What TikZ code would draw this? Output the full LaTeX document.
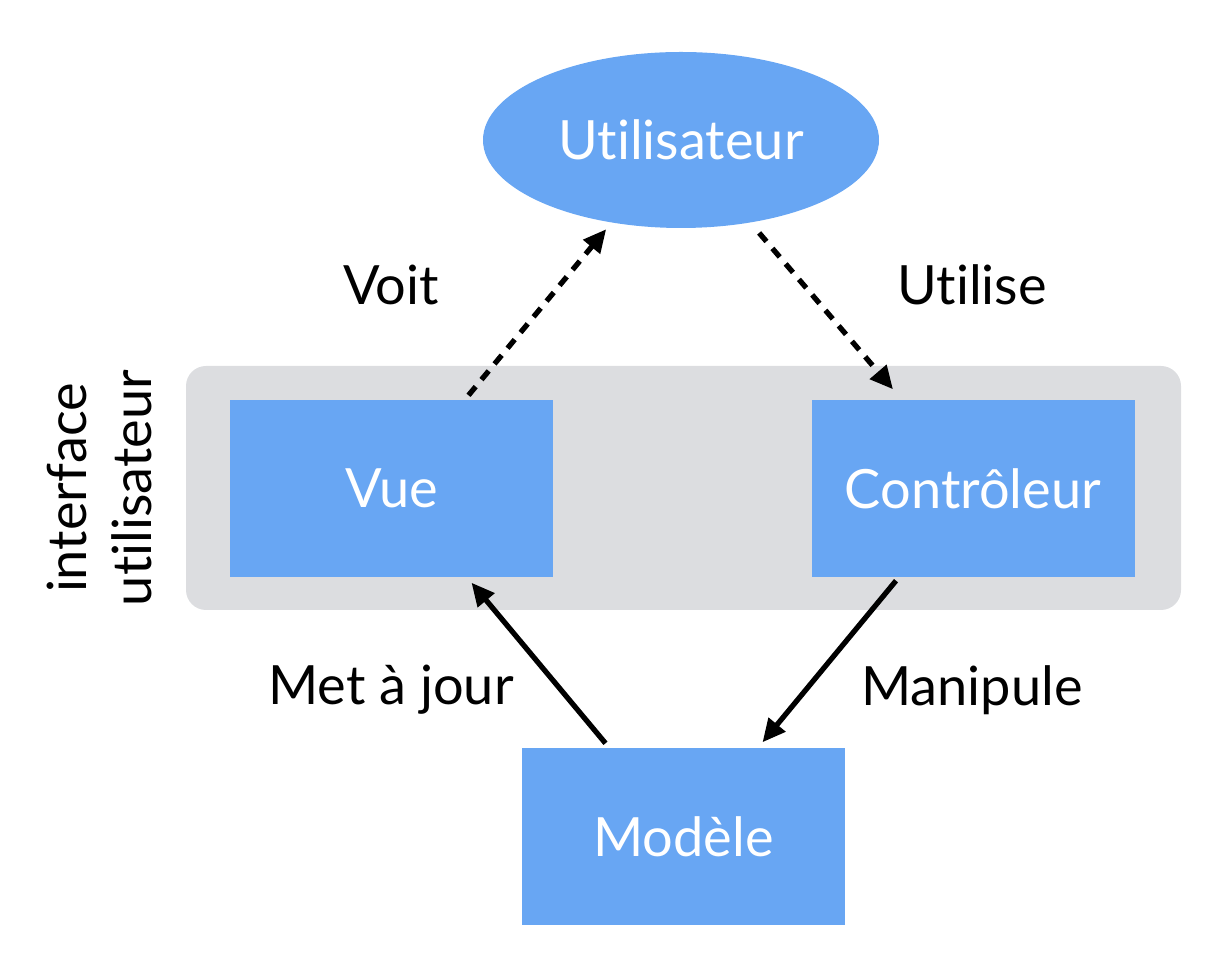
\documentclass[tikz,border=0pt]{standalone}
\usepackage{fontspec}
\setmainfont{Lato}[Ligatures=NoCommon]
\usetikzlibrary{arrows.meta,shapes.geometric,positioning}
\definecolor{mvcblue}{HTML}{68A6F3}
\definecolor{uigray}{HTML}{DCDDE0}
\tikzset{
  txt/.style={font=\fontsize{15.4}{18.5}\selectfont},
  bloc/.style={txt, fill=mvcblue, text=white, minimum width=3.23cm, minimum height=1.77cm, inner sep=0pt},
  lien/.style={line width=1.5pt, -{Triangle[length=0.23cm,width=0.21cm]}},
  pointille/.style={lien, dash pattern=on 3.2pt off 2.6pt}
}
\begin{document}
\begin{tikzpicture}
          \useasboundingbox (0, 0) rectangle (12.12, -9.68);

          \node [fill=uigray, rounded corners=0.2cm, minimum width=9.95cm, minimum height=2.44cm] (ui) at (6.835, -4.88) {};
          \node [txt, rotate=90, align=center] (uilabel) at (0.99, -4.88) {interface\\utilisateur};

          \node [txt, ellipse, fill=mvcblue, text=white, minimum width=3.96cm, minimum height=1.76cm, inner sep=0pt] (user) at (6.81, -1.40) {Utilisateur};
          \node [bloc] (vue) at (3.915, -4.885) {Vue};
          \node [bloc] (ctrl) at (9.73, -4.885) {Contrôleur};
          \node [bloc] (modele) at (6.835, -8.365) {Modèle};

          \node [txt] (voit) at (3.91, -2.85) {Voit};
          \node [txt] (utilise) at (9.72, -2.85) {Utilise};
          \node [txt] (majour) at (3.91, -6.90) {Met à jour};
          \node [txt] (manipule) at (9.72, -6.90) {Manipule};

          \draw [pointille, shorten >=0.08cm] ([xshift=0.77cm, yshift=0.04cm]vue.north) -- (user.230);
          \draw [pointille, shorten <=0.13cm] (user.310) -- ([xshift=-0.8cm, yshift=0.1cm]ctrl.north);
          \draw [lien] ([xshift=-0.78cm, yshift=0.04cm]modele.north) -- ([xshift=0.8cm, yshift=-0.05cm]vue.south);
          \draw [lien] ([xshift=-0.77cm, yshift=-0.03cm]ctrl.south) -- ([xshift=0.79cm, yshift=0.05cm]modele.north);
        \end{tikzpicture}
\end{document}
